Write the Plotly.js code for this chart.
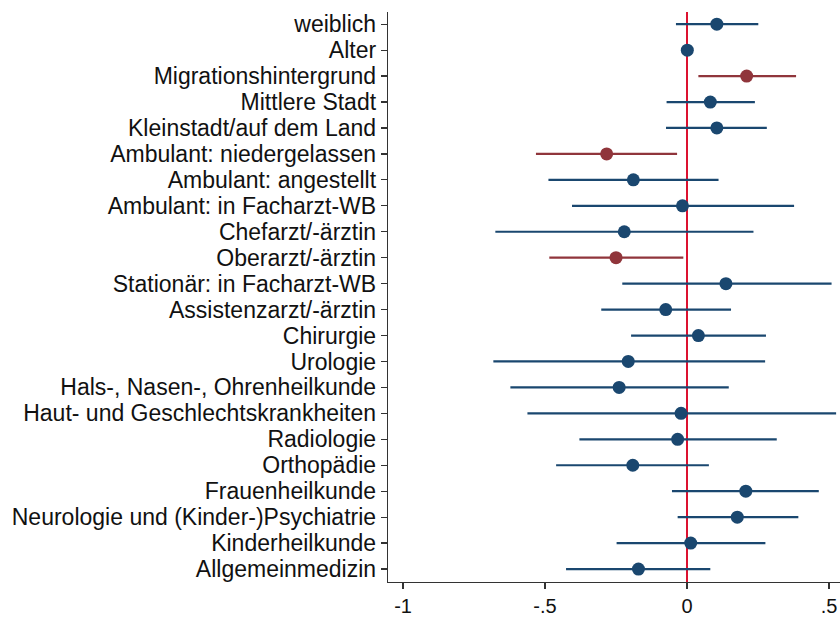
<!DOCTYPE html>
<html>
<head>
<meta charset="utf-8">
<script src="https://cdn.plot.ly/plotly-3.0.1.min.js"></script>
<style>html,body{margin:0;padding:0;background:#fff;}#chart{width:840px;height:621px;}</style>
</head>
<body>
<div id="chart"></div>
<script>
const categories = [
  "weiblich", "Alter", "Migrationshintergrund", "Mittlere Stadt", "Kleinstadt/auf dem Land",
  "Ambulant: niedergelassen", "Ambulant: angestellt", "Ambulant: in Facharzt-WB",
  "Chefarzt/-ärztin", "Oberarzt/-ärztin", "Stationär: in Facharzt-WB", "Assistenzarzt/-ärztin",
  "Chirurgie", "Urologie", "Hals-, Nasen-, Ohrenheilkunde", "Haut- und Geschlechtskrankheiten",
  "Radiologie", "Orthopädie", "Frauenheilkunde", "Neurologie und (Kinder-)Psychiatrie",
  "Kinderheilkunde", "Allgemeinmedizin"
];
const estimate = [0.105, 0.001, 0.210, 0.082, 0.105, -0.283, -0.189, -0.016, -0.221, -0.250, 0.137, -0.075,
  0.040, -0.207, -0.239, -0.021, -0.033, -0.191, 0.207, 0.177, 0.013, -0.171];
const ciLow = [-0.039, -0.004, 0.040, -0.072, -0.074, -0.532, -0.488, -0.405, -0.675, -0.485, -0.228, -0.302,
  -0.197, -0.682, -0.622, -0.562, -0.379, -0.461, -0.053, -0.033, -0.248, -0.426];
const ciHigh = [0.251, 0.006, 0.384, 0.239, 0.281, -0.035, 0.111, 0.377, 0.234, -0.013, 0.509, 0.155,
  0.278, 0.275, 0.147, 0.525, 0.316, 0.077, 0.464, 0.392, 0.276, 0.082];
const significant = [false, false, true, false, false, true, false, false, false, true, false, false,
  false, false, false, false, false, false, false, false, false, false];
const xTickVals = [-1, -0.5, 0, 0.5];
const xTickText = ["-1", "-.5", "0", ".5"];

function subset(flag, color) {
  const idx = categories.map((c, i) => i).filter(i => significant[i] === flag);
  return {
    type: "scatter", mode: "markers",
    x: idx.map(i => estimate[i]),
    y: idx.map(i => categories[i]),
    marker: {color: color, size: 13},
    error_x: {
      type: "data", symmetric: false,
      array: idx.map(i => ciHigh[i] - estimate[i]),
      arrayminus: idx.map(i => estimate[i] - ciLow[i]),
      color: color, thickness: 2.2, width: 0
    },
    showlegend: false, hoverinfo: "x+y"
  };
}

const data = [subset(false, "#1a476f"), subset(true, "#90353b")];

const layout = {
  width: 840, height: 621,
  margin: {l: 388, r: 0, t: 12, b: 39},
  paper_bgcolor: "#fff", plot_bgcolor: "#fff",
  font: {family: "Liberation Sans, Arial, sans-serif", color: "#111"},
  showlegend: false,
  xaxis: {
    range: [-1.053, 0.5387],
    tickmode: "array", tickvals: xTickVals, ticktext: xTickText,
    ticks: "outside", ticklen: 6, tickwidth: 1.2, tickcolor: "#333",
    showline: true, linecolor: "#333", linewidth: 1.3,
    showgrid: false,
    zeroline: true, zerolinecolor: "#dc1230", zerolinewidth: 2.2,
    tickfont: {size: 20, color: "#111"}
  },
  yaxis: {
    type: "category",
    categoryorder: "array", categoryarray: categories,
    tickmode: "array", tickvals: categories, ticktext: categories,
    range: [21.5, -0.47],
    ticks: "outside", ticklen: 6, tickwidth: 1.2, tickcolor: "#333",
    showline: true, linecolor: "#333", linewidth: 1.3,
    showgrid: false, zeroline: false,
    ticklabelstandoff: 0,
    tickfont: {size: 23, color: "#111"}
  }
};

Plotly.newPlot("chart", data, layout, {displayModeBar: false, staticPlot: true});
</script>
</body>
</html>
